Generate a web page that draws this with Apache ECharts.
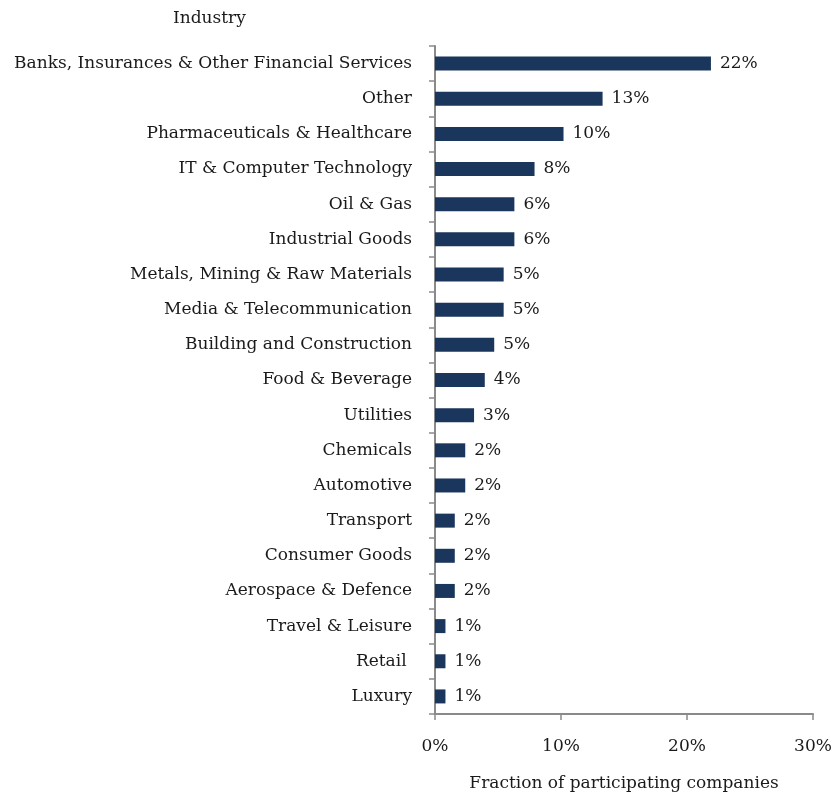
<!DOCTYPE html>
<html>
<head>
<meta charset="utf-8">
<script src="https://cdn.jsdelivr.net/npm/echarts@6/dist/echarts.min.js"></script>
<style>
  html, body { margin: 0; padding: 0; background: #fff; }
  #chart { width: 833px; height: 793px; }
</style>
</head>
<body>
<div id="chart"></div>
<script>
// Industries, listed top to bottom
const industries = [
  'Banks, Insurances & Other Financial Services',
  'Other',
  'Pharmaceuticals & Healthcare',
  'IT & Computer Technology',
  'Oil & Gas',
  'Industrial Goods',
  'Metals, Mining & Raw Materials',
  'Media & Telecommunication',
  'Building and Construction',
  'Food & Beverage',
  'Utilities',
  'Chemicals',
  'Automotive',
  'Transport',
  'Consumer Goods',
  'Aerospace & Defence',
  'Travel & Leisure',
  'Retail ',
  'Luxury'
];

// Share of participating companies, in percent
const shares = [21.9, 13.3, 10.2, 7.9, 6.3, 6.3, 5.45, 5.45, 4.7, 3.95, 3.1, 2.4, 2.4, 1.57, 1.57, 1.57, 0.83, 0.83, 0.83];

const xTicks = { min: 0, max: 30, interval: 10 };

const FONT = 'DejaVu Serif';
const SIZE = 17;
const TEXT = '#1a1a1a';
const AXIS = '#8a8a8a';

const chart = echarts.init(document.getElementById('chart'));
chart.setOption({
  animation: false,
  backgroundColor: '#ffffff',
  title: {
    text: 'Industry',
    left: 173,
    top: 10,
    padding: 0,
    textStyle: { fontFamily: FONT, fontSize: SIZE, fontWeight: 'normal', color: TEXT }
  },
  grid: {
    left: 435, right: 20, top: 46, bottom: 79,
    containLabel: false,
    outerBoundsMode: 'none'
  },
  xAxis: {
    type: 'value',
    min: xTicks.min,
    max: xTicks.max,
    interval: xTicks.interval,
    name: 'Fraction of participating companies',
    nameLocation: 'middle',
    nameGap: 61,
    nameTextStyle: { fontFamily: FONT, fontSize: SIZE, color: TEXT },
    axisLine: { show: true, lineStyle: { color: AXIS, width: 2 } },
    axisTick: { show: true, length: 6, lineStyle: { color: AXIS, width: 1.5 } },
    splitLine: { show: false },
    axisLabel: {
      margin: 24,
      fontFamily: FONT, fontSize: SIZE, color: TEXT,
      formatter: v => v + '%'
    }
  },
  yAxis: {
    type: 'category',
    data: industries,
    inverse: true,
    axisLine: { show: true, lineStyle: { color: AXIS, width: 2 } },
    axisTick: { show: true, length: 6, lineStyle: { color: AXIS, width: 1.5 } },
    axisLabel: { margin: 23, fontFamily: FONT, fontSize: SIZE, color: TEXT }
  },
  series: [{
    type: 'bar',
    data: shares,
    barWidth: 14,
    itemStyle: { color: '#1b365d' },
    label: {
      show: true,
      position: 'right',
      distance: 9,
      fontFamily: FONT, fontSize: SIZE, color: TEXT,
      formatter: p => Math.round(p.value) + '%'
    }
  }]
});
</script>
</body>
</html>
